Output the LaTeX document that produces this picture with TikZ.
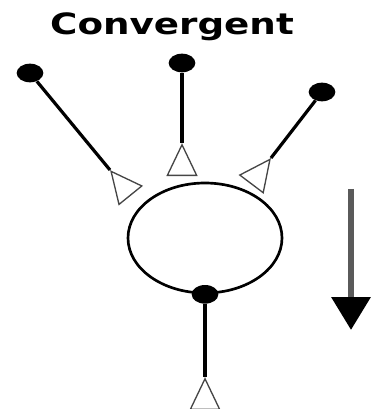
\documentclass[tikz,border=0pt]{standalone}
\usepackage{fontspec}
\usepackage{xcolor}
\usepackage{tikz}
\usetikzlibrary{arrows.meta, positioning, shapes.geometric}
\newfontfamily\titlefont{DejaVu Sans}
\definecolor{griscaule}{RGB}{90,90,90}
\definecolor{griscone}{RGB}{70,70,70}

\begin{document}
\begin{tikzpicture}[x=0.75pt, y=-0.75pt,
      dot/.style={ellipse, fill=black, inner sep=0pt,
                  minimum width=20pt, minimum height=14pt},
      cone/.style={draw=griscone, line width=1pt, isosceles triangle,
                   isosceles triangle stretches, inner sep=0pt,
                   minimum width=22pt, minimum height=23pt, anchor=apex},
      stem/.style={line width=2.4pt},
      >=Stealth]
    \useasboundingbox (0,0) rectangle (371,409);
    \node[font=\titlefont\bfseries\fontsize{22}{26}\selectfont,
          xscale=1.27, anchor=base] (title) at (172,35) {Convergent};
    % inputs
    \node[dot] (d1) at (30,73) {};
    \node[dot] (d2) at (182,63) {};
    \node[dot] (d3) at (322,92) {};
    \node[cone, rotate=129] (t1) at (110,170) {};
    \node[cone, rotate=90] (t2) at (182,143) {};
    \node[cone, rotate=53] (t3) at (271,158) {};
    \foreach \i in {1,2,3} {
      \draw[stem] (d\i) -- (t\i.apex);
    }
    % ring and output
    \node[draw, ellipse, line width=2pt, inner sep=0pt,
          minimum width=115.5pt, minimum height=82.5pt] (ring) at (205,238) {};
    \node[dot] (d4) at (ring.south) {};
    \node[cone, rotate=90] (t4) at (205,377) {};
    \draw[stem] (d4) -- (t4.apex);
    \coordinate (flowtop) at (351,189);
    \coordinate (flowtip) at (351,330);
    \draw[line width=5pt, draw=griscaule,
          -{Triangle[width=28.5pt, length=24.75pt, black]}] (flowtop) -- (flowtip);
  \end{tikzpicture}
\end{document}
